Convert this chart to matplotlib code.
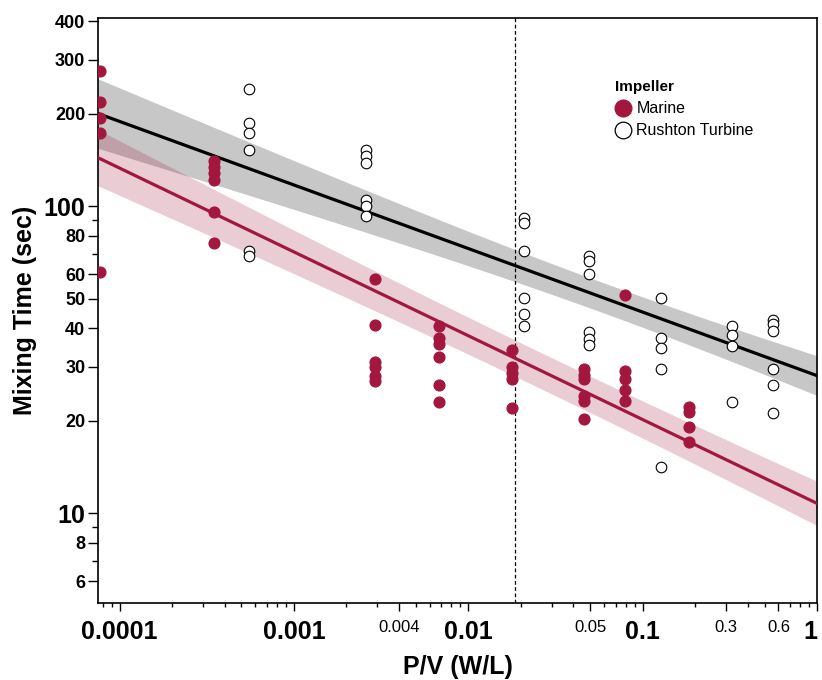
import numpy as np
import matplotlib
matplotlib.use("Agg")
import matplotlib.pyplot as plt
from matplotlib.lines import Line2D
from matplotlib.ticker import FixedLocator, NullFormatter

plt.rcParams['font.family'] = ['Liberation Sans', 'DejaVu Sans']

## mixing time measurements, power per volume in W/L, time in sec
marine_pv = [7.7e-5] * 5 + [3.5e-4] * 6 + [2.9e-3] * 6 + [6.8e-3] * 6 \
    + [0.0178] * 5 + [0.046] * 6 + [0.079] * 5 + [0.184] * 4
marine_time = [276, 218, 193, 173, 61,
               140, 134, 128, 122, 96, 76,
               58, 41, 31, 30, 28, 27,
               40.6, 37.3, 35.5, 32.2, 26.2, 23,
               34, 30, 28.7, 27.3, 22,
               29.4, 28.3, 27.3, 24, 23.2, 20.2,
               51.3, 29, 27.3, 25.2, 23.2,
               22.1, 21.3, 19.1, 17]

rushton_pv = [5.5e-4] * 6 + [2.6e-3] * 6 + [0.0208] * 6 + [0.049] * 6 \
    + [0.127] * 5 + [0.324] * 4 + [0.561] * 6
rushton_time = [240, 187, 173, 152, 71.3, 68.7,
                152, 145.5, 138, 105, 100, 92.8,
                91.7, 88.3, 71.3, 50.4, 44.4, 40.6,
                68.7, 66.2, 60, 38.9, 36.8, 35.2,
                50.4, 37.3, 34.6, 29.4, 14.1,
                40.8, 38.2, 35, 23,
                42.6, 41.2, 39.2, 29.4, 26.2, 21.2]

## power-law fits, log10(time) = a + b*log10(P/V), [marine, rushton]
fit_intercept = [1.032, 1.448]
fit_slope = [-0.273, -0.207]
# 95% band half-width in log10 units: sqrt(h0^2 + k^2 (log10 x - c)^2)
band_h0 = [0.059, 0.049]
band_k = [0.027, 0.035]
band_c = [-1.54, -1.21]

cutoff_pv = 0.0184

y_major = [6, 8, 10, 20, 30, 40, 50, 60, 80, 100, 200, 300, 400]
y_minor = [7, 9, 70, 90]
x_big = [0.0001, 0.001, 0.01, 0.1, 1]
x_small = [0.004, 0.05, 0.3, 0.6]

marine_color = '#A3173F'


def fit_curve(i, xs):
    lx = np.log10(xs)
    fit = fit_intercept[i] + fit_slope[i] * lx
    half = np.sqrt(band_h0[i] ** 2 + band_k[i] ** 2 * (lx - band_c[i]) ** 2)
    return 10 ** fit, 10 ** (fit - half), 10 ** (fit + half)


fig = plt.figure(figsize=(8.22, 6.8), dpi=100)
ax = fig.add_axes([0.119, 0.1132, 0.875, 0.8603])
ax.set_xscale('log')
ax.set_yscale('log')
ax.set_xlim(7.5e-5, 1.0)
ax.set_ylim(5.1, 410)

xs = np.logspace(np.log10(7.5e-5), 0, 200)
m_fit, m_lo, m_hi = fit_curve(0, xs)
r_fit, r_lo, r_hi = fit_curve(1, xs)

ax.fill_between(xs, r_lo, r_hi, color='black', alpha=0.22, lw=0, zorder=1)
ax.fill_between(xs, m_lo, m_hi, color=marine_color, alpha=0.22, lw=0, zorder=2)
ax.plot(xs, r_fit, color='black', lw=2.3, zorder=3)
ax.plot(xs, m_fit, color=marine_color, lw=2.3, zorder=3)

ax.axvline(cutoff_pv, color='black', lw=0.9, ls=(0, (3, 2)), zorder=2)

ax.scatter(marine_pv, marine_time, s=60, color=marine_color, zorder=4)
ax.scatter(rushton_pv, rushton_time, s=58, facecolors='white', edgecolors='black',
           linewidths=0.8, zorder=4)

# y axis ticks, decades drawn larger
ax.yaxis.set_major_locator(FixedLocator(y_major))
ax.yaxis.set_minor_locator(FixedLocator(y_minor))
ax.yaxis.set_minor_formatter(NullFormatter())
ax.set_yticklabels([str(v) for v in y_major])
for lab, v in zip(ax.get_yticklabels(), y_major):
    lab.set_fontweight('bold')
    lab.set_fontsize(18 if v in (10, 100) else 13)
ax.tick_params(axis='y', which='major', length=7, width=1, pad=2)
ax.tick_params(axis='y', which='minor', length=4, width=1)

# x axis ticks
x_major = sorted(x_big + x_small)
x_minor = [m * 10.0 ** e for e in range(-5, 0) for m in range(1, 10)]
x_minor = [v for v in x_minor if v not in x_major]
ax.xaxis.set_major_locator(FixedLocator(x_major))
ax.xaxis.set_minor_locator(FixedLocator(x_minor))
ax.xaxis.set_minor_formatter(NullFormatter())
ax.set_xticklabels([('%g' % v) if v >= 0.001 else '0.0001' for v in x_major])
for lab, v in zip(ax.get_xticklabels(), x_major):
    if v in x_big:
        lab.set_fontweight('bold')
        lab.set_fontsize(18)
    else:
        lab.set_fontsize(12)
    if v == 1:
        # keep the last label inside the figure
        lab.set_horizontalalignment('right')
ax.tick_params(axis='x', which='major', length=6, width=1, pad=6)
ax.tick_params(axis='x', which='minor', length=3, width=1)

for sp in ax.spines.values():
    sp.set_linewidth(1.2)

ax.set_xlabel('P/V (W/L)', fontsize=18, fontweight='bold', labelpad=8)
ax.set_ylabel('Mixing Time (sec)', fontsize=18, fontweight='bold', labelpad=5)

handles = [
    Line2D([], [], ls='none', marker='o', ms=12, color=marine_color),
    Line2D([], [], ls='none', marker='o', ms=12, mfc='white', mec='black', mew=0.9),
]
leg = ax.legend(handles, ['Marine', 'Rushton Turbine'], title='Impeller',
                loc='upper left', bbox_to_anchor=(0.71, 0.905), frameon=False,
                fontsize=11.5, handletextpad=0.35, labelspacing=0.45,
                borderaxespad=0, handlelength=1.0, alignment='left')
leg.get_title().set_fontweight('bold')
leg.get_title().set_fontsize(11)

fig.savefig('out.png', dpi=100)
